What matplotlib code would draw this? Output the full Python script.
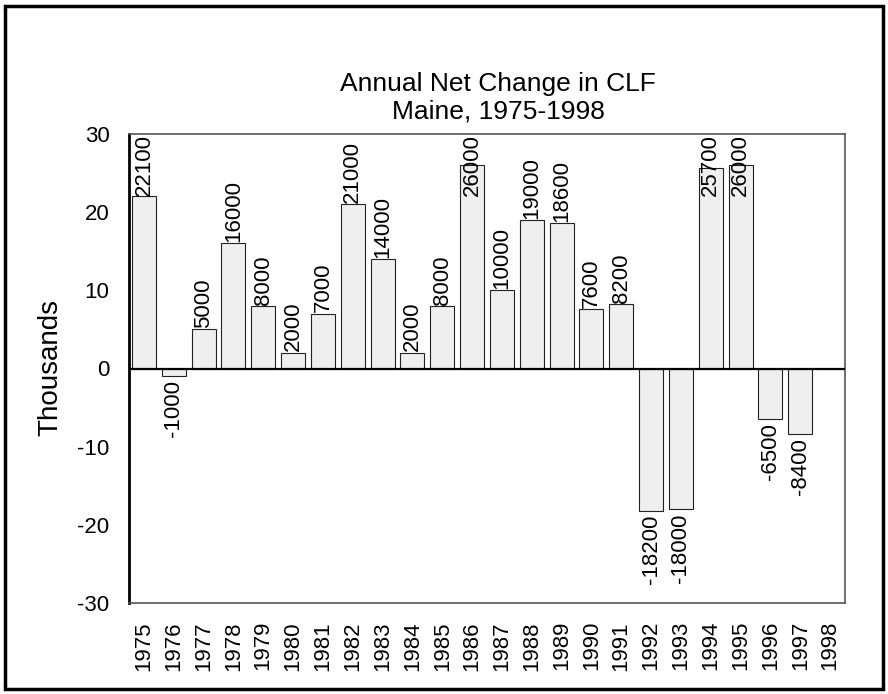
import matplotlib
matplotlib.use("Agg")
import matplotlib.pyplot as plt
from matplotlib.patches import Rectangle

plt.rcParams['font.family'] = ['Liberation Sans', 'DejaVu Sans']
plt.rcParams['axes.unicode_minus'] = False

years = [str(y) for y in range(1975, 1999)]
# net change in civilian labor force, persons (1998 has no value)
change = [22100, -1000, 5000, 16000, 8000, 2000, 7000, 21000, 14000, 2000,
          8000, 26000, 10000, 19000, 18600, 7600, 8200, -18200, -18000,
          25700, 26000, -6500, -8400, None]

fig = plt.figure(figsize=(8.88, 6.94), dpi=100)
ax = fig.add_axes([129/888, 1-603/694, (845-129)/888, (603-134)/694])

xs = [i + 0.5 for i in range(len(years))]
vals = [v / 1000 if v is not None else 0 for v in change]
ax.bar(xs, vals, width=0.8, color='#efefef', edgecolor='#222222', linewidth=0.8, zorder=2)
ax.axhline(0, color='black', linewidth=1.6, zorder=3)

ax.set_xlim(0, len(years))
ax.set_ylim(-30, 30)
ax.set_yticks(range(-30, 31, 10))
ax.set_xticks(xs)
ax.set_xticklabels(years, rotation=90, fontsize=16)
ax.tick_params(axis='y', length=0, pad=14, labelsize=16)
ax.tick_params(axis='x', length=0, pad=13)

for side in ['top', 'right', 'bottom']:
    ax.spines[side].set_color('#555555')
    ax.spines[side].set_linewidth(1.2)
ax.spines['left'].set_linewidth(2)
ax.spines['left'].set_color('black')

fig.text(50/888, 1-368/694, 'Thousands', rotation=90, ha='center', va='center', fontsize=20)

fig.canvas.draw()
renderer = fig.canvas.get_renderer()
ax_bb = ax.get_window_extent(renderer)
labels = []
for x, v in zip(xs, change):
    if v is None:
        continue
    y = v / 1000
    if v >= 0:
        t = ax.annotate(str(v), (x, y), xytext=(0, 1), textcoords='offset points',
                        rotation=90, ha='center', va='bottom', fontsize=16, zorder=4)
    else:
        t = ax.annotate(str(v), (x, y), xytext=(0, -3), textcoords='offset points',
                        rotation=90, ha='center', va='top', fontsize=16, zorder=4)
    labels.append((t, x, v))

# labels that would stick out above the plot area are pulled inside
fig.canvas.draw()
for t, x, v in labels:
    bb = t.get_window_extent(renderer)
    if v >= 0 and bb.y1 > ax_bb.y1:
        t.xy = (x, 30)
        t.set_position((0, 0))
        t.set_va('top')

fig.text(498/888, 1-123/694, 'Annual Net Change in CLF\nMaine, 1975-1998',
         ha='center', va='bottom', fontsize=19, linespacing=1.17)

fig.patches.append(Rectangle((5/888, 5/694), 878/888, 683/694, transform=fig.transFigure,
                             fill=False, edgecolor='black', linewidth=2.5))

fig.savefig('out.png', dpi=100)
